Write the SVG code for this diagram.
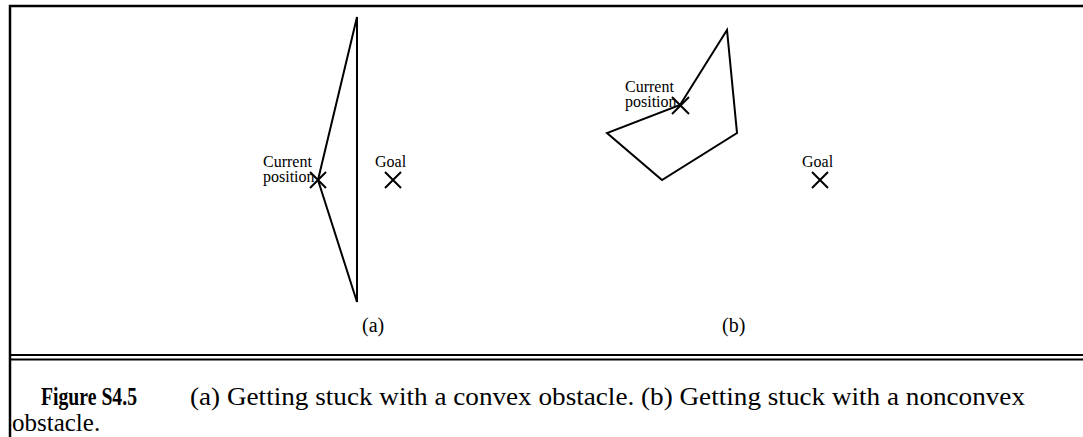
<svg xmlns="http://www.w3.org/2000/svg" width="1083" height="437" viewBox="0 0 1083 437">
<style>
.frame{stroke:#000;stroke-width:2.5;fill:none}
.shape{stroke:#000;stroke-width:2;fill:none;stroke-linejoin:miter}
.x{stroke:#000;stroke-width:2;fill:none}
.lbl{font-family:"Liberation Serif",serif;font-size:16px;fill:#000}
.sub{font-family:"Liberation Serif",serif;font-size:20px;fill:#000}
.cap{font-family:"Liberation Serif",serif;font-size:25px;fill:#000}
</style>
<rect width="1083" height="437" fill="#fff"/>
<g id="frame">
<path class="frame" d="M10,437 V6 H1083"/>
<path d="M11,355 H1083 M11,359.5 H1083" stroke="#000" stroke-width="2"/>
</g>
<g id="panel-a">
<path id="obstacle-a" class="shape" d="M357,17 L357,302 L318,180 Z"/>
<g id="current-a">
<path class="x" d="M310,172 L326,188 M326,172 L310,188"/>
<text class="lbl" x="263" y="167">Current</text>
<text class="lbl" x="263" y="182">position</text>
</g>
<g id="goal-a">
<path class="x" d="M385,172 L401,188 M401,172 L385,188"/>
<text class="lbl" x="375" y="167">Goal</text>
</g>
<text class="sub" x="362" y="332">(a)</text>
</g>
<g id="panel-b">
<path id="obstacle-b" class="shape" d="M680,105 L727,30 L737,133 L662,180 L607,133 Z"/>
<g id="current-b">
<path class="x" d="M672,97 L689,114 M689,97 L672,114"/>
<text class="lbl" x="625" y="92">Current</text>
<text class="lbl" x="625" y="107">position</text>
</g>
<g id="goal-b">
<path class="x" d="M812,172 L828,188 M828,172 L812,188"/>
<text class="lbl" x="802" y="167">Goal</text>
</g>
<text class="sub" x="722" y="332">(b)</text>
</g>
<g id="caption">
<text class="cap" x="41" y="405" font-size="22" font-weight="bold" textLength="96" lengthAdjust="spacingAndGlyphs">Figure S4.5</text>
<text class="cap" x="190" y="405" textLength="835" lengthAdjust="spacingAndGlyphs">(a) Getting stuck with a convex obstacle. (b) Getting stuck with a nonconvex</text>
<text class="cap" x="12" y="431">obstacle.</text>
</g>
</svg>
